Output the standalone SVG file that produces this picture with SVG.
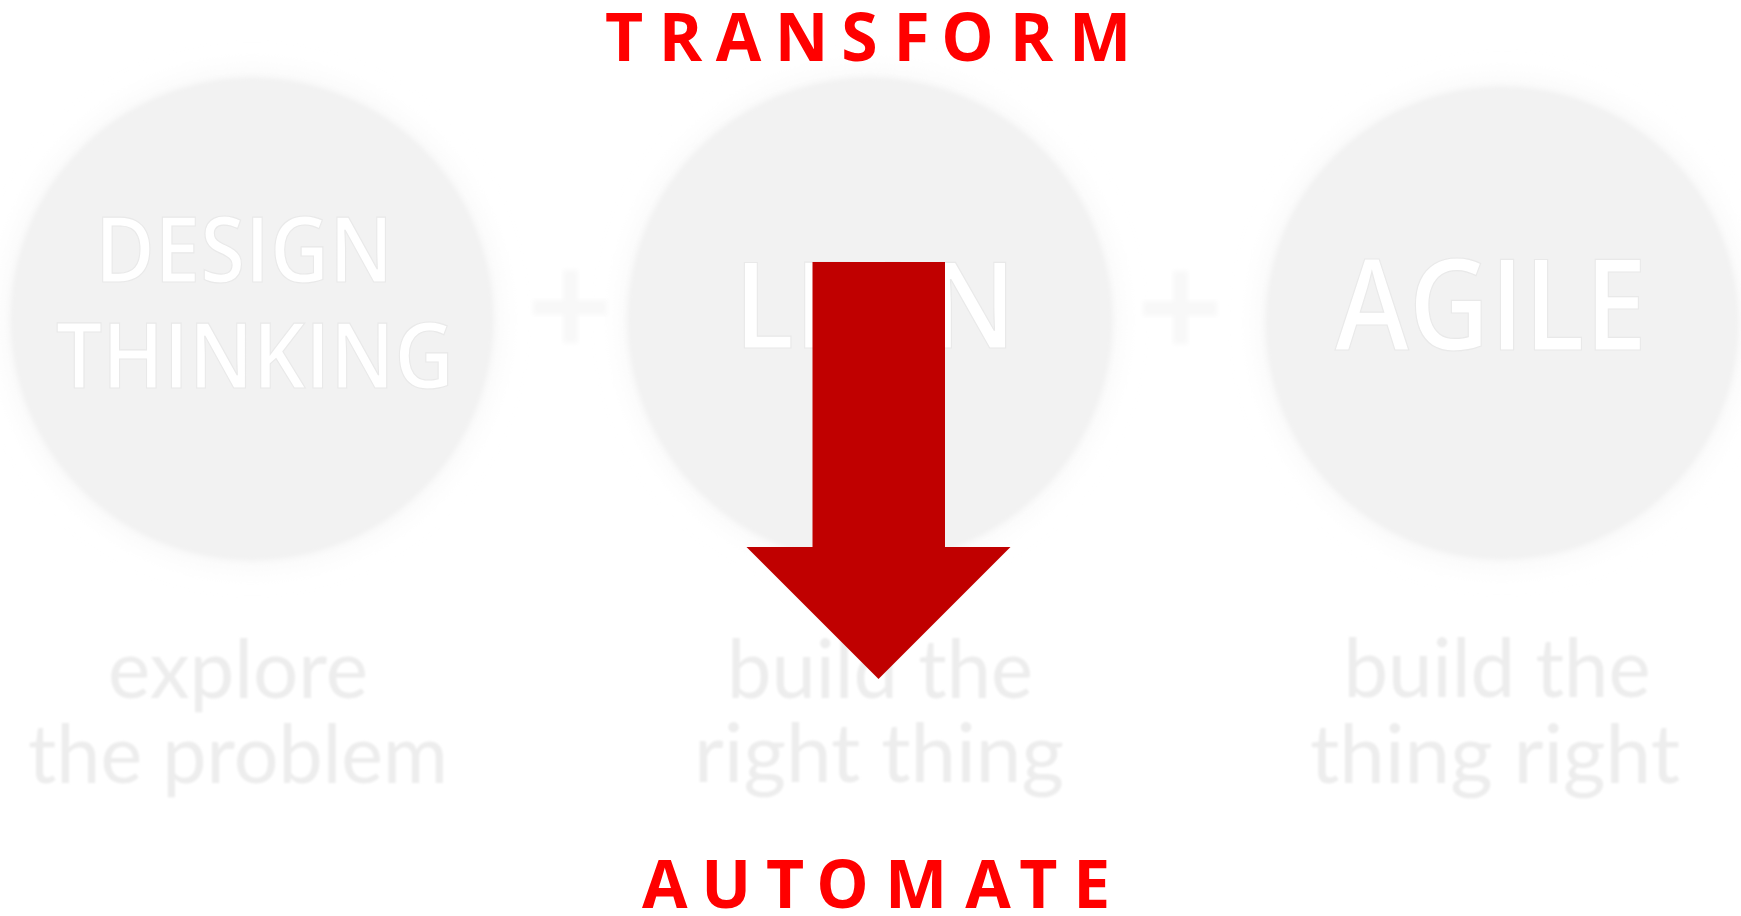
<svg xmlns="http://www.w3.org/2000/svg" width="1741" height="916" viewBox="0 0 1741 916">
  <defs>
    <filter id="halo" x="-20%" y="-20%" width="140%" height="140%">
      <feGaussianBlur stdDeviation="12"/>
    </filter>
    <filter id="soft" x="-10%" y="-10%" width="120%" height="120%">
      <feGaussianBlur stdDeviation="2.5"/>
    </filter>
    <filter id="txtblur" x="-10%" y="-10%" width="120%" height="120%">
      <feGaussianBlur stdDeviation="1"/>
    </filter>
  </defs>
  <style>
    .halo { fill: #f9f9f9; filter: url(#halo); }
    .disc { fill: #f2f2f2; filter: url(#soft); }
    .big { font-family: "Open Sans", "Liberation Sans", sans-serif; font-weight: 600; fill: #ffffff; stroke: #e9e9e9; stroke-width: 1.2; text-anchor: middle; }
    .cap { font-family: Lato, "Open Sans", sans-serif; font-size: 82px; fill: #ededed; text-anchor: middle; filter: url(#txtblur); }
    .plus { fill: #f8f8f8; filter: url(#soft); }
    .red { font-family: "Open Sans", "Liberation Sans", sans-serif; font-weight: 700; font-size: 66px; fill: #ff0000; text-anchor: middle; }
    .arrow { fill: #c00000; }
  </style>
  <rect width="1741" height="916" fill="#ffffff"/>

  <g id="node-design-thinking">
    <circle class="halo" cx="252" cy="319" r="250"/>
    <circle class="disc" cx="252" cy="319" r="242"/>
    <text class="big" x="244" y="282" font-size="91" textLength="298" lengthAdjust="spacingAndGlyphs">DESIGN</text>
    <text class="big" x="255" y="388" font-size="91" textLength="398" lengthAdjust="spacingAndGlyphs">THINKING</text>
    <text class="cap" x="238" y="698" textLength="260" lengthAdjust="spacingAndGlyphs">explore</text>
    <text class="cap" x="238" y="783" textLength="420" lengthAdjust="spacingAndGlyphs">the problem</text>
  </g>

  <g id="plus-1">
    <rect class="plus" x="533" y="300" width="74" height="15"/>
    <rect class="plus" x="563" y="270" width="15" height="73"/>
  </g>

  <g id="node-lean">
    <circle class="halo" cx="870" cy="320" r="250"/>
    <circle class="disc" cx="870" cy="320" r="243"/>
    <text class="big" x="875" y="348" font-size="120" textLength="282" lengthAdjust="spacingAndGlyphs">LEAN</text>
    <text class="cap" x="880" y="698" textLength="306" lengthAdjust="spacingAndGlyphs">build the</text>
    <text class="cap" x="879" y="782" textLength="370" lengthAdjust="spacingAndGlyphs">right thing</text>
  </g>

  <g id="plus-2">
    <rect class="plus" x="1143" y="301" width="74" height="15"/>
    <rect class="plus" x="1173" y="271" width="15" height="73"/>
  </g>

  <g id="node-agile">
    <circle class="halo" cx="1502" cy="323" r="245"/>
    <circle class="disc" cx="1502" cy="323" r="237"/>
    <text class="big" x="1491" y="350" font-size="126" textLength="312" lengthAdjust="spacingAndGlyphs">AGILE</text>
    <text class="cap" x="1497" y="697" textLength="307" lengthAdjust="spacingAndGlyphs">build the</text>
    <text class="cap" x="1495" y="783" textLength="370" lengthAdjust="spacingAndGlyphs">thing right</text>
  </g>

  <g id="label-transform">
    <text class="red" x="624 680.5 738.5 801.5 859.5 911.5 967.5 1031.5 1100" y="60.5">TRANSFORM</text>
  </g>

  <g id="label-automate">
    <text class="red" x="664.7 726.3 785 842.5 916 988 1038.3 1091.7" y="908">AUTOMATE</text>
  </g>

  <g id="connectors">
    <polygon class="arrow" points="812.5,262 945,262 945,547 1010.5,547 878.5,679 746.5,547 812.5,547"/>
  </g>
</svg>
